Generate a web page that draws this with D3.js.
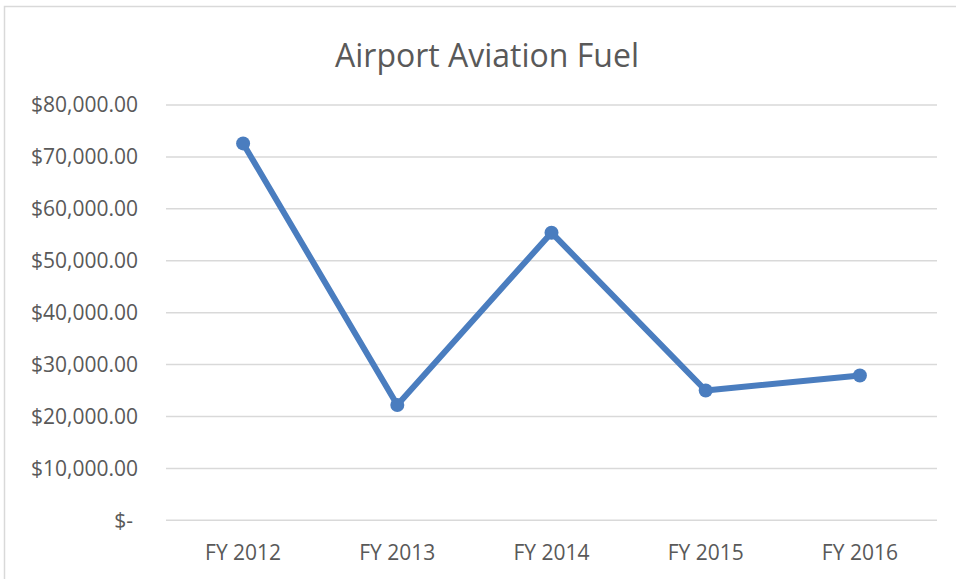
<!DOCTYPE html>
<html>
<head>
<meta charset="utf-8">
<script src="https://cdn.jsdelivr.net/npm/d3@7"></script>
<style>
  html, body { margin: 0; padding: 0; background: #fff; }
  svg { display: block; }
</style>
</head>
<body>
<svg id="chart" width="956" height="579"></svg>
<script>
const title = "Airport Aviation Fuel";
const categories = ["FY 2012", "FY 2013", "FY 2014", "FY 2015", "FY 2016"];
const values = [72600, 22200, 55400, 25000, 27900];
const yTicks = [0, 10000, 20000, 30000, 40000, 50000, 60000, 70000, 80000];

const W = 956, H = 579;
const margin = { left: 166, right: 19, top: 105, bottom: 59 };
const svg = d3.select("#chart");
const font = "'Open Sans', 'Liberation Sans', sans-serif";
const textColor = "#595959";

// chart border
svg.append("rect")
  .attr("x", 4.5).attr("y", 6.5)
  .attr("width", W + 10).attr("height", H + 10)
  .attr("fill", "none").attr("stroke", "#d9d9d9").attr("stroke-width", 1.5);

const x = d3.scaleBand().domain(categories)
  .range([margin.left, W - margin.right]).paddingInner(0).paddingOuter(0);
const y = d3.scaleLinear().domain([0, 80000])
  .range([H - margin.bottom + 0.3, margin.top]);

// gridlines
svg.append("g").selectAll("line").data(yTicks).join("line")
  .attr("x1", margin.left).attr("x2", W - margin.right)
  .attr("y1", d => y(d)).attr("y2", d => y(d))
  .attr("stroke", "#d9d9d9").attr("stroke-width", 1.5);

// y axis labels
const fmt = d => d === 0 ? "$-" : "$" + d3.format(",.2f")(d);
const yAxis = d3.axisLeft(y).tickValues(yTicks).tickFormat(fmt).tickSize(0).tickPadding(28);
const gy = svg.append("g").attr("transform", `translate(${margin.left},0)`).call(yAxis);
gy.select(".domain").remove();
gy.selectAll("text")
  .attr("fill", textColor).style("font-family", font).style("font-size", "21px")
  .attr("dx", d => d === 0 ? -5 : 0);

// x axis labels
const xAxis = d3.axisBottom(x).tickSize(0).tickPadding(25);
const gx = svg.append("g").attr("transform", `translate(0,${y(0)})`).call(xAxis);
gx.select(".domain").remove();
gx.selectAll("text")
  .attr("fill", textColor).style("font-family", font).style("font-size", "21px");

// line
const cx = (d, i) => x(categories[i]) + x.bandwidth() / 2;
const line = d3.line().x(cx).y(d => y(d));
svg.append("path").datum(values)
  .attr("d", line).attr("fill", "none")
  .attr("stroke", "#4a7dbf").attr("stroke-width", 6)
  .attr("stroke-linejoin", "round");

svg.append("g").selectAll("circle").data(values).join("circle")
  .attr("cx", cx).attr("cy", d => y(d)).attr("r", 7)
  .attr("fill", "#4a7dbf");

// title
svg.append("text")
  .attr("x", 487).attr("y", 67)
  .attr("text-anchor", "middle")
  .attr("fill", textColor).style("font-family", font).style("font-size", "32px")
  .text(title);
</script>
</body>
</html>
